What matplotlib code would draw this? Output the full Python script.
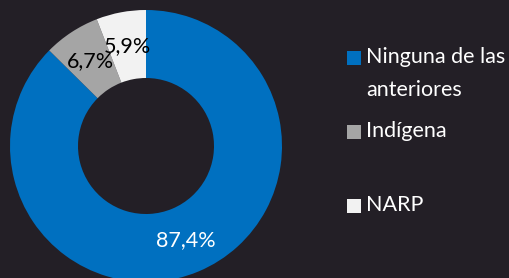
import matplotlib
matplotlib.use('Agg')
import matplotlib.pyplot as plt
from matplotlib.patches import Rectangle

categories = ['Ninguna de las\nanteriores', 'Indígena', 'NARP']
values = [87.4, 6.7, 5.9]
colors = ['#0070c0', '#a5a5a5', '#f2f2f2']
label_colors = ['white', 'black', 'black']

bg = '#231f26'
plt.rcParams['font.family'] = ['Lato', 'DejaVu Sans']

fig = plt.figure(figsize=(5.1, 2.78), dpi=100, facecolor=bg)
ax = fig.add_axes([10 / 510, -4 / 278, 272 / 510, 272 / 278])
ax.set_facecolor(bg)

def fmt(p):
    return f'{p:.1f}'.replace('.', ',') + '%'

wedges, texts, autotexts = ax.pie(values, colors=colors, startangle=90, counterclock=False,
                                  radius=1, wedgeprops=dict(width=0.5, linewidth=0),
                                  autopct=fmt, pctdistance=0.75,
                                  textprops=dict(fontsize=15.5))
for t, c in zip(autotexts, label_colors):
    t.set_color(c)
ax.set_xlim(-1, 1)
ax.set_ylim(-1, 1)
ax.set_aspect('equal')
ax.axis('off')

# legend drawn by hand (Excel style, square aligned with first line)
ys = [58, 132, 206]
for name, col, y in zip(categories, colors, ys):
    fig.add_artist(Rectangle((347 / 510, 1 - (y + 7) / 278), 14 / 510, 14 / 278,
                             transform=fig.transFigure, color=col, lw=0))
    fig.text(366 / 510, 1 - (y - 11) / 278, name, color='white', fontsize=15.5,
             va='top', ha='left', linespacing=1.8)

fig.savefig('out.png', dpi=100, facecolor=bg)
